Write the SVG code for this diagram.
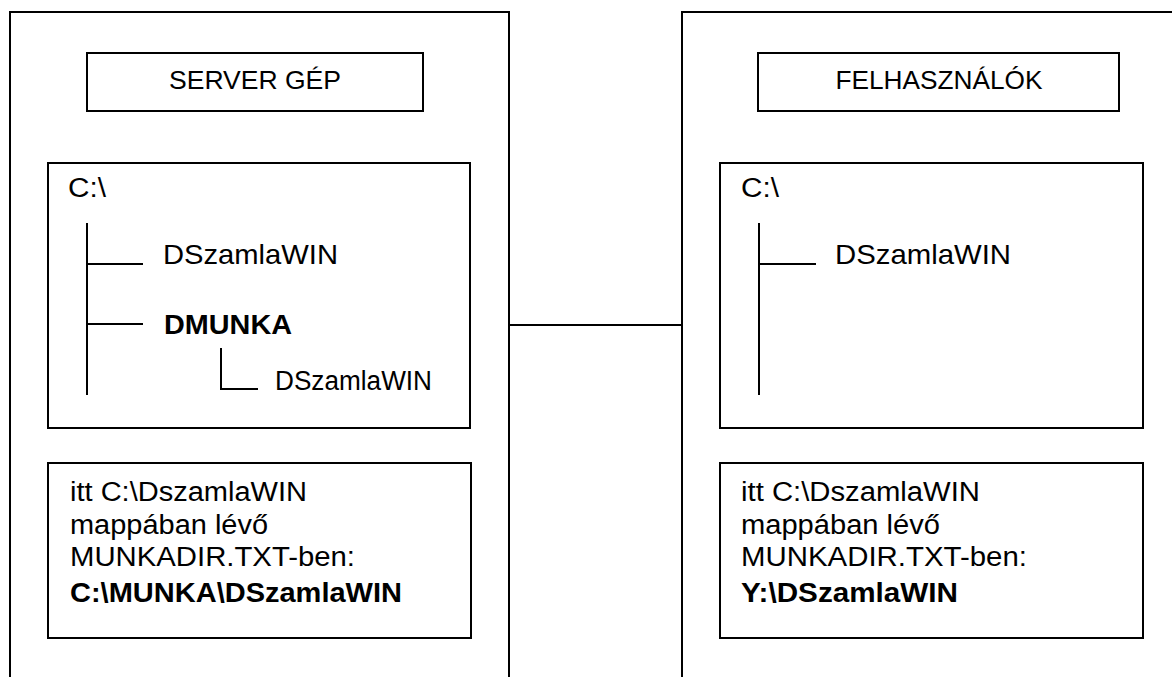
<svg xmlns="http://www.w3.org/2000/svg" width="1172" height="677" viewBox="0 0 1172 677">
<style>
.box{fill:none;stroke:#000;stroke-width:2}
.ln{stroke:#000;stroke-width:2;fill:none}
text{font-family:"Liberation Sans",Arial,sans-serif;font-size:27px;fill:#000}
.t{font-size:26px}
.tr{font-size:28px}
.b{font-weight:bold}
</style>
<rect width="1172" height="677" fill="#fff"/>
<g id="server">
<rect class="box" x="10" y="12" width="499" height="700"/>
<g id="server-title">
<rect class="box" x="87" y="53" width="336" height="58"/>
<text class="t" x="255" y="89" text-anchor="middle" textLength="172" lengthAdjust="spacingAndGlyphs">SERVER GÉP</text>
</g>
<g id="server-tree">
<rect class="box" x="48" y="163" width="422" height="265"/>
<text x="68" y="197" textLength="38" lengthAdjust="spacingAndGlyphs">C:\</text>
<path class="ln" d="M87 223V395M87 264H143M87 324H143M221 348V389H258"/>
<text class="tr" x="163" y="264" textLength="175" lengthAdjust="spacingAndGlyphs">DSzamlaWIN</text>
<text class="tr b" x="164" y="334" textLength="128" lengthAdjust="spacingAndGlyphs">DMUNKA</text>
<text x="275" y="390" textLength="157" lengthAdjust="spacingAndGlyphs">DSzamlaWIN</text>
</g>
<g id="server-note">
<rect class="box" x="48" y="463" width="423" height="175"/>
<text x="70" y="501" textLength="237" lengthAdjust="spacingAndGlyphs">itt C:\DszamlaWIN</text>
<text x="70" y="534" textLength="198" lengthAdjust="spacingAndGlyphs">mappában lévő</text>
<text x="70" y="566" textLength="285" lengthAdjust="spacingAndGlyphs">MUNKADIR.TXT-ben:</text>
<text class="b" x="70" y="602" textLength="332" lengthAdjust="spacingAndGlyphs">C:\MUNKA\DSzamlaWIN</text>
</g>
</g>
<g id="users">
<rect class="box" x="682" y="12" width="520" height="700"/>
<g id="users-title">
<rect class="box" x="758" y="53" width="361" height="58"/>
<text class="t" x="939" y="89" text-anchor="middle" textLength="207" lengthAdjust="spacingAndGlyphs">FELHASZNÁLÓK</text>
</g>
<g id="users-tree">
<rect class="box" x="720" y="163" width="423" height="265"/>
<text x="741" y="197" textLength="38" lengthAdjust="spacingAndGlyphs">C:\</text>
<path class="ln" d="M759 223V395M759 264H816"/>
<text class="tr" x="835" y="264" textLength="176" lengthAdjust="spacingAndGlyphs">DSzamlaWIN</text>
</g>
<g id="users-note">
<rect class="box" x="720" y="463" width="423" height="175"/>
<text x="741" y="501" textLength="239" lengthAdjust="spacingAndGlyphs">itt C:\DszamlaWIN</text>
<text x="741" y="534" textLength="199" lengthAdjust="spacingAndGlyphs">mappában lévő</text>
<text x="741" y="566" textLength="286" lengthAdjust="spacingAndGlyphs">MUNKADIR.TXT-ben:</text>
<text class="b" x="741" y="602" textLength="217" lengthAdjust="spacingAndGlyphs">Y:\DSzamlaWIN</text>
</g>
</g>
<g id="connectors">
<path class="ln" d="M509 325H682"/>
</g>
</svg>
